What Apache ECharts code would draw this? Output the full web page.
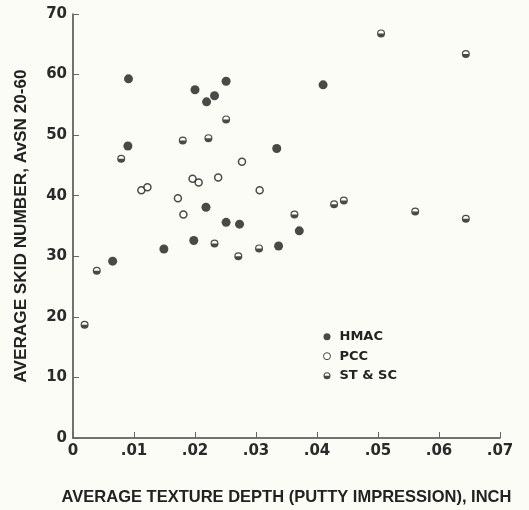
<!DOCTYPE html>
<html>
<head>
<meta charset="utf-8">
<script src="https://cdn.jsdelivr.net/npm/echarts@6/dist/echarts.min.js"></script>
<style>
html,body{margin:0;padding:0;background:#fcfcf7;}
#chart{width:529px;height:510px;}
</style>
</head>
<body>
<div id="chart"></div>
<script>
// ---- data ----
const hmacX = [0.0091,0.0090,0.0065,0.0200,0.0219,0.0232,0.0251,0.0149,0.0198,0.0218,0.0251,0.0273,0.0334,0.0337,0.0371,0.0410];
const hmacY = [59.3,48.2,29.2,57.5,55.5,56.5,58.9,31.2,32.6,38.1,35.6,35.3,47.8,31.7,34.2,58.3];
const pccX = [0.0112,0.0122,0.0172,0.0181,0.0196,0.0206,0.0238,0.0277,0.0306];
const pccY = [40.9,41.4,39.6,36.9,42.8,42.2,43.0,45.6,40.9];
const stscX = [0.0019,0.0039,0.0079,0.0180,0.0222,0.0251,0.0232,0.0271,0.0305,0.0363,0.0428,0.0444,0.0561,0.0644,0.0505,0.0644];
const stscY = [18.7,27.6,46.1,49.1,49.5,52.6,32.1,30.0,31.3,36.9,38.6,39.2,37.4,36.2,66.8,63.4];
const seriesNames = ['HMAC','PCC','ST & SC'];
const xTitle = 'AVERAGE TEXTURE DEPTH (PUTTY IMPRESSION), INCH';
const yTitle = 'AVERAGE SKID NUMBER, AvSN 20-60';

const pair = (xs, ys) => xs.map((x, i) => [x, ys[i]]);
const halfPath = 'path://M0,10A10,10,0,1,1,20,10A10,10,0,1,1,0,10ZM3,10L17,10A7,7,0,0,0,3,10Z';
const ink = '#1c1c1c';
const tickFont = {fontFamily:'DejaVu Sans', fontWeight:'bold', fontSize:15, color:'#2a2a2a'};
const titleFont = {fontFamily:'Liberation Sans', fontWeight:'bold', color:'#222'};

const chart = echarts.init(document.getElementById('chart'), null, {renderer:'canvas'});
chart.setOption({
  backgroundColor:'#fcfcf7',
  animation:false,
  grid:{left:73, top:14, width:427, height:424, containLabel:false, outerBoundsMode:'none'},
  xAxis:{
    type:'value', min:0, max:0.07, interval:0.01,
    name:xTitle, nameLocation:'middle', nameGap:51,
    nameTextStyle:Object.assign({fontSize:16.5}, titleFont),
    axisLine:{show:true, onZero:false, lineStyle:{color:'#444', width:1.5}},
    axisTick:{show:true, inside:true, length:6, lineStyle:{color:'#666', width:1}},
    splitLine:{show:false},
    axisLabel:Object.assign({margin:6, formatter:v => v === 0 ? '0' : v.toFixed(2).replace(/^0/, '')}, tickFont)
  },
  yAxis:{
    type:'value', min:0, max:70, interval:10,
    name:yTitle, nameLocation:'middle', nameGap:43, nameRotate:90,
    nameTextStyle:Object.assign({fontSize:17.2}, titleFont),
    axisLine:{show:true, onZero:false, lineStyle:{color:'#444', width:1.5}},
    axisTick:{show:true, inside:true, length:6, lineStyle:{color:'#666', width:1}},
    splitLine:{show:false},
    axisLabel:Object.assign({margin:6}, tickFont)
  },
  legend:{
    orient:'vertical', left:318, top:324.7,
    itemWidth:7, itemHeight:7, itemGap:5.5,
    textStyle:{fontFamily:'DejaVu Sans', fontWeight:'bold', fontSize:13, color:'#222', lineHeight:14, padding:[0,0,0,4]},
    data:[
      {name:seriesNames[0], icon:'circle'},
      {name:seriesNames[1], icon:'circle', itemStyle:{borderWidth:1}},
      {name:seriesNames[2], icon:halfPath}
    ]
  },
  series:[
    {name:seriesNames[0], type:'scatter', data:pair(hmacX, hmacY), symbol:'circle', symbolSize:9,
     itemStyle:{color:ink}},
    {name:seriesNames[1], type:'scatter', data:pair(pccX, pccY), symbol:'circle', symbolSize:7,
     itemStyle:{color:'#fcfcf7', borderColor:ink, borderWidth:1.5}},
    {name:seriesNames[2], type:'scatter', data:pair(stscX, stscY), symbol:halfPath, symbolSize:8,
     itemStyle:{color:ink}}
  ]
});
</script>
</body>
</html>
